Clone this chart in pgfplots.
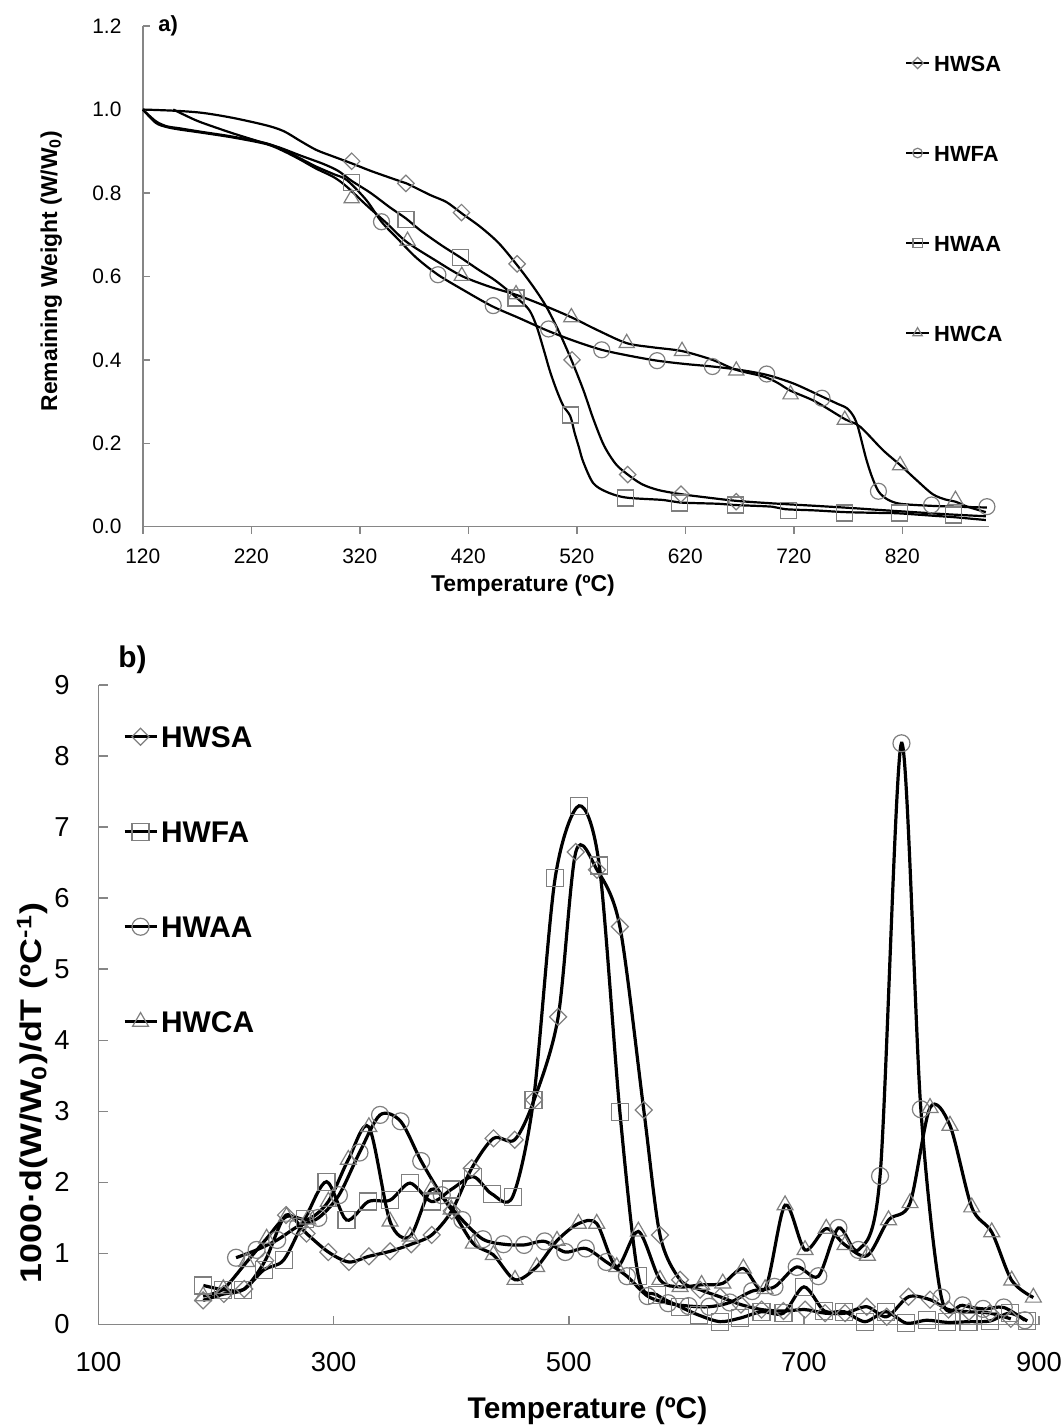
\documentclass[border=0pt]{standalone}
\usepackage{fontspec}
\setmainfont{Liberation Sans}
\usepackage{pgfplots}
\pgfplotsset{compat=1.18}
\definecolor{axgray}{HTML}{868686}
\definecolor{mkgray}{HTML}{7F7F7F}
\begin{document}
\begin{tikzpicture}
\path[use as bounding box] (0,0) rectangle (531.5bp,-712.5bp);
% ---------------- panel a ----------------
\begin{axis}[
  at={(71.4bp,-263.35bp)}, anchor=south west,
  width=423.15bp, height=250.3bp, scale only axis,
  xmin=120, xmax=900, ymin=0, ymax=1.2,
  axis x line*=bottom, axis y line*=left,
  axis line style={axgray, line width=0.75bp},
  xtick={120,220,320,420,520,620,720,820},
  xticklabels={120,220,320,420,520,620,720,820},
  ytick={0,0.2,0.4,0.6,0.8,1,1.2},
  yticklabels={0.0,0.2,0.4,0.6,0.8,1.0,1.2},
  tick align=inside, major tick length=3.5bp,
  tick style={axgray, line width=0.75bp},
  xtick style={yshift=-3.5bp},
  tick label style={font=\fontsize{10.5}{12}\selectfont, inner sep=0pt},
  xticklabel style={anchor=north, yshift=-10.7bp},
  yticklabel style={anchor=east, xshift=-10.5bp},
  clip=false,
  legend image code/.code={\draw[#1, mark repeat=2, mark phase=2] plot coordinates {(0bp,0bp) (5.75bp,0bp) (11.5bp,0bp)};},
  legend cell align=left,
  legend style={draw=none, fill=none, at={(0.9006,0.6566)}, anchor=west, inner sep=0pt, outer sep=0pt,
     row sep=37bp, column sep=2bp,
     nodes={inner sep=0pt, text height=8bp, text depth=0pt, font=\bfseries\fontsize{11}{13}\selectfont}},
]
% lines
\addplot[black, line width=1.1bp, smooth, forget plot] coordinates {
(120,1.0) (150,0.997) (175,0.992) (203,0.98) (234,0.962) (250,0.948) (265,0.925) (280,0.903) (296,0.887) (312.5,0.871) (330,0.853) (354,0.831) (363,0.823) (385,0.795) (400,0.778) (414,0.751) (431,0.719) (448,0.68) (465,0.627) (480,0.575) (492,0.527) (504,0.465) (515,0.40) (526,0.328) (535,0.26) (545,0.195) (556,0.15) (567,0.125) (580,0.102) (595,0.088) (616,0.078) (640,0.07) (667,0.062) (700,0.056) (740,0.05) (772,0.045) (800,0.040) (830,0.035) (860,0.03) (897,0.025)};
\addplot[black, line width=1.1bp, smooth, forget plot] coordinates {
(120,1.0) (132,0.972) (142,0.96) (154,0.955) (173,0.947) (203,0.935) (234,0.919) (250,0.903) (265,0.883) (280,0.863) (296,0.845) (308,0.831) (326,0.783) (340,0.731) (355,0.69) (372,0.645) (392,0.604) (415,0.568) (441.6,0.529) (467,0.50) (492,0.471) (518,0.445) (543,0.424) (568,0.41) (594,0.398) (620,0.39) (645,0.384) (670,0.376) (695,0.364) (720,0.343) (746,0.312) (760,0.295) (769,0.284) (775,0.265) (779,0.24) (783,0.2) (787,0.16) (792,0.12) (798,0.085) (806,0.066) (818,0.055) (847,0.05) (870,0.048) (898,0.046)};
\addplot[black, line width=1.1bp, smooth, forget plot] coordinates {
(148,1.0) (160,0.985) (173,0.97) (203,0.943) (234,0.918) (247,0.908) (265,0.89) (286,0.87) (300,0.853) (312.5,0.829) (330,0.80) (348,0.765) (362.5,0.739) (376,0.71) (395,0.675) (413,0.645) (430,0.615) (445,0.59) (464,0.55) (476,0.52) (483,0.48) (490,0.42) (495,0.375) (501,0.33) (507.5,0.29) (514,0.265) (518,0.225) (522,0.19) (526,0.155) (535,0.105) (547,0.084) (565,0.07) (600,0.064) (615,0.058) (650,0.055) (666,0.052) (700,0.048) (712,0.042) (740,0.039) (767,0.035) (800,0.033) (817,0.032) (850,0.026) (867,0.023) (897,0.016)};
\addplot[black, line width=1.1bp, smooth, forget plot] coordinates {
(120,1.0) (132,0.968) (142,0.958) (154,0.952) (173,0.945) (203,0.933) (234,0.917) (250,0.9) (265,0.88) (280,0.858) (296,0.838) (308,0.815) (326,0.771) (345,0.727) (363,0.683) (390,0.638) (414,0.601) (440,0.575) (464,0.556) (490,0.53) (515,0.502) (540,0.47) (566,0.44) (590,0.43) (617,0.421) (645,0.40) (667,0.376) (692,0.36) (705,0.345) (717,0.326) (740,0.30) (767,0.258) (781,0.24) (802,0.184) (818,0.148) (833,0.112) (848,0.078) (860,0.065) (869,0.06) (880,0.048) (897,0.035)};
% markers
\addplot[only marks, mark=square, mark size=2.9bp, mark options={rotate=45, draw=mkgray, line width=0.6bp}, forget plot] coordinates {
(312.5,0.876) (362.5,0.823) (413.75,0.753) (465,0.630) (515.6,0.40) (566.9,0.125) (616,0.078) (666.9,0.060)};
\addplot[only marks, mark=o, mark size=4bp, mark options={draw=mkgray, line width=0.6bp}, forget plot] coordinates {
(340,0.731) (392,0.604) (443,0.53) (494,0.474) (543,0.424) (594,0.398) (645,0.384) (695,0.366) (746,0.308) (798,0.085) (847,0.052) (898,0.048)};
\addplot[only marks, mark=square, mark size=4bp, mark options={draw=mkgray, line width=0.6bp}, forget plot] coordinates {
(312.5,0.826) (362.5,0.737) (413,0.645) (464,0.548) (514,0.268) (565,0.069) (615,0.057) (666,0.052) (715,0.038) (767,0.033) (817.5,0.033) (867,0.028)};
\addplot[only marks, mark=triangle, mark size=4.4bp, mark options={draw=mkgray, line width=0.6bp}, forget plot] coordinates {
(312.5,0.787) (364,0.685) (414,0.601) (464,0.557) (515,0.502) (566,0.44) (617,0.421) (667,0.374) (717,0.317) (767,0.256) (818,0.147) (869,0.064)};
% legend
\addlegendimage{black, line width=1.1bp, mark=square, mark size=2bp, mark options={rotate=45, draw=mkgray, line width=0.6bp}}
\addlegendentry{HWSA}
\addlegendimage{black, line width=1.1bp, mark=o, mark size=2.4bp, mark options={draw=mkgray, line width=0.6bp}}
\addlegendentry{HWFA}
\addlegendimage{black, line width=1.1bp, mark=square, mark size=2.3bp, mark options={draw=mkgray, line width=0.6bp}}
\addlegendentry{HWAA}
\addlegendimage{black, line width=1.1bp, mark=triangle, mark size=2.7bp, mark options={draw=mkgray, line width=0.6bp}}
\addlegendentry{HWCA}
\end{axis}
% ---------------- panel b ----------------
\begin{axis}[
  at={(49.25bp,-662.25bp)}, anchor=south west,
  width=470.25bp, height=319.75bp, scale only axis,
  xmin=100, xmax=900, ymin=0, ymax=9,
  axis x line*=bottom, axis y line*=left,
  axis line style={axgray, line width=0.75bp},
  xtick={100,300,500,700,900},
  xticklabels={100,300,500,700,900},
  ytick={0,1,2,3,4,5,6,7,8,9},
  yticklabels={0,1,2,3,4,5,6,7,8,9},
  tick align=inside, major tick length=4.5bp,
  tick style={axgray, line width=0.75bp},
  tick label style={font=\fontsize{13.75}{15}\selectfont, inner sep=0pt},
  xticklabel style={anchor=north, yshift=-13.75bp},
  yticklabel style={anchor=east, xshift=-14.25bp},
  clip=false,
  legend image code/.code={\draw[#1, mark repeat=2, mark phase=2] plot coordinates {(0bp,0bp) (8bp,0bp) (16bp,0bp)};},
  legend cell align=left,
  legend style={draw=none, fill=none, at={(0.026,0.6963)}, anchor=west, inner sep=0pt, outer sep=0pt,
     row sep=36.8bp, column sep=1.5bp,
     nodes={inner sep=0pt, text height=10.7bp, text depth=0pt, font=\bfseries\fontsize{15}{17}\selectfont}},
  every axis plot/.append style={line width=1.6bp, black, smooth},
]
% HWSA
\addplot[mark=square, mark size=3bp, mark options={rotate=45, draw=mkgray, line width=0.6bp}] coordinates {
(189,0.34) (206.6,0.43) (224,0.50) (241.8,0.90) (259.5,1.54) (277,1.28) (295.5,1.02) (313,0.88) (330,0.96) (348,1.03) (366,1.13) (383.4,1.26) (400.5,1.60) (417.5,2.20) (436,2.62) (454,2.60) (470.5,3.16) (491,4.33) (506,6.65) (524,6.40) (543.5,5.60) (563.8,3.02) (577.6,1.26) (594.7,0.63) (611.7,0.49) (628.7,0.39) (646.5,0.28) (664,0.21) (682.6,0.19) (701,0.21) (718,0.16) (735,0.16) (753.5,0.25) (770.5,0.11) (789,0.39) (807.3,0.35) (823,0.21) (840.5,0.18) (858.4,0.16) (876,0.08)};
\addlegendentry{HWSA}
% HWFA
\addplot[mark=square, mark size=4.25bp, mark options={draw=mkgray, line width=0.6bp}] coordinates {
(189.2,0.55) (206.2,0.49) (223.2,0.49) (240.7,0.77) (257.6,0.91) (275.7,1.49) (294,2.01) (311,1.47) (329.5,1.73) (348,1.75) (365,1.99) (383.4,1.73) (400,1.90) (418.8,2.08) (434.4,1.84) (452.3,1.80) (470,3.16) (488.4,6.28) (508.7,7.30) (526,6.46) (543.5,2.99) (559.2,0.68) (574.8,0.42) (594.7,0.25) (611,0.13) (628.7,0.04) (645.7,0.09) (664,0.18) (682.6,0.16) (700.1,0.53) (717.4,0.19) (734.4,0.18) (752,0.04) (769.9,0.18) (787,0.02) (804.5,0.06) (822,0.03) (840,0.04) (858.4,0.05) (875,0.16) (890,0.05)};
\addlegendentry{HWFA}
% HWAA
\addplot[mark=o, mark size=4.25bp, mark options={draw=mkgray, line width=0.6bp}] coordinates {
(217,0.94) (234.5,1.05) (252,1.19) (269.5,1.38) (287,1.50) (304.5,1.82) (322,2.42) (339.5,2.95) (357,2.86) (374.5,2.30) (392,1.82) (409.5,1.47) (427,1.20) (444.5,1.13) (462,1.12) (479.5,1.17) (497,1.02) (514.5,1.07) (532,0.88) (549.5,0.68) (567,0.40) (584.5,0.30) (602,0.26) (619.5,0.25) (637,0.31) (656,0.47) (675,0.53) (693.9,0.81) (712.3,0.68) (729.4,1.36) (746.4,1.05) (764.8,2.09) (783,8.18) (799.5,3.03) (817,0.38) (835,0.27) (852.5,0.22) (870,0.24) (888,0.06)};
\addlegendentry{HWAA}
% HWCA
\addplot[mark=triangle, mark size=4.6bp, mark options={draw=mkgray, line width=0.6bp}] coordinates {
(189,0.40) (206.2,0.50) (226,0.88) (243,1.21) (260,1.52) (278,1.48) (295.5,1.73) (312.5,2.32) (330,2.78) (348,1.45) (365,1.24) (383,1.90) (400,1.62) (418.8,1.14) (435.9,0.98) (454.3,0.63) (472.7,0.81) (490,1.18) (508.2,1.42) (523.8,1.42) (540.8,0.81) (559.2,1.31) (577.6,0.63) (594.7,0.53) (613,0.56) (631,0.58) (648.5,0.79) (667,0.50) (684,1.68) (701,1.05) (719,1.35) (735,1.12) (754,0.97) (772,1.47) (790.3,1.71) (807.3,3.05) (824.3,2.80) (842.8,1.65) (859.8,1.30) (876.8,0.62) (895.2,0.38)};
\addlegendentry{HWCA}
\end{axis}
% ---------------- labels ----------------
\node[anchor=base west, inner sep=0pt, font=\bfseries\fontsize{11}{13}\selectfont] at (79bp,-15.5bp) {a)};
\node[anchor=base, inner sep=0pt, font=\bfseries\fontsize{11.5}{13}\selectfont] at (261.5bp,-295.85bp) {Temperature (ºC)};
\node[rotate=90, anchor=base, inner sep=0pt, font=\bfseries\fontsize{11.5}{13}\selectfont] at (28.5bp,-135.5bp) {Remaining Weight (W/W\textsubscript{0})};
\node[anchor=base west, inner sep=0pt, font=\bfseries\fontsize{15}{17}\selectfont] at (59bp,-333.5bp) {b)};
\node[anchor=base, inner sep=0pt, font=\bfseries\fontsize{15}{17}\selectfont] at (293.75bp,-709bp) {Temperature (ºC)};
\node[rotate=90, xscale=1.2, anchor=base, inner sep=0pt, font=\bfseries\fontsize{15}{17}\selectfont] at (20.85bp,-546.5bp) {1000·d(W/W\textsubscript{0})/dT (ºC\textsuperscript{-1})};
\end{tikzpicture}
\end{document}
